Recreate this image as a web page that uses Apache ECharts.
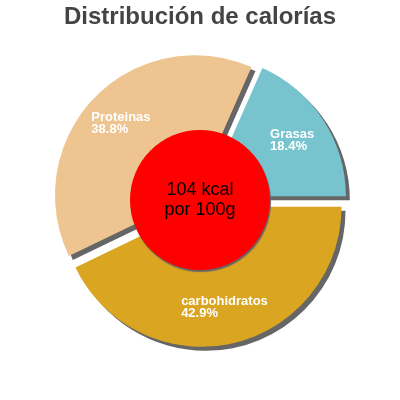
<!DOCTYPE html>
<html>
<head>
<meta charset="utf-8">
<script src="https://cdn.jsdelivr.net/npm/echarts@6/dist/echarts.min.js"></script>
<style>
  html, body { margin: 0; padding: 0; background: #fff; }
  #chart { width: 400px; height: 400px; }
</style>
</head>
<body>
<div id="chart"></div>
<script>
const title = 'Distribución de calorías'
const categories = ['carbohidratos', 'Proteinas', 'Grasas']
const values = [42.9, 38.8, 18.4]
const centerLines = ['104 kcal', 'por 100g']
const colors = ['#DAA520', '#EEC591', '#77C4CF']

const chart = echarts.init(document.getElementById('chart'), null, { renderer: 'canvas' })

const option = {
  animation: false,
  title: {
    text: title,
    left: 'center',
    top: 0,
    textStyle: {
      fontFamily: 'Liberation Sans',
      fontSize: 24,
      fontWeight: 'bold',
      color: '#444'
    }
  },
  series: [
    {
      type: 'pie',
      center: [200, 200],
      radius: [60, 140],
      startAngle: 0,
      clockwise: true,
      selectedMode: 'multiple',
      selectedOffset: 7,
      avoidLabelOverlap: false,
      emphasis: { disabled: true },
      itemStyle: {
        shadowBlur: 0,
        shadowOffsetX: 4,
        shadowOffsetY: 4,
        shadowColor: '#666'
      },
      label: {
        show: true,
        position: 'inside',
        formatter: '{t|{b}}\n{t|{c}%}',
        rich: {
          t: {
            align: 'left',
            color: '#fff',
            fontFamily: 'Liberation Sans',
            fontSize: 13,
            fontWeight: 'bold',
            lineHeight: 12
          }
        }
      },
      labelLine: { show: false },
      data: categories.map((name, i) => ({
        name: name,
        value: values[i],
        selected: true,
        itemStyle: { color: colors[i] }
      }))
    },
    {
      type: 'pie',
      center: [200, 200],
      radius: [0, 70],
      silent: true,
      emphasis: { disabled: true },
      itemStyle: {
        color: '#FF0000',
        shadowBlur: 1,
        shadowOffsetX: 1,
        shadowOffsetY: 2,
        shadowColor: '#666'
      },
      label: {
        show: true,
        position: 'center',
        formatter: centerLines.join('\n'),
        color: '#000',
        fontFamily: 'Liberation Sans',
        fontSize: 18,
        lineHeight: 20
      },
      labelLine: { show: false },
      data: [{ name: 'kcal', value: 1 }]
    }
  ]
}

option && chart.setOption(option)
</script>
</body>
</html>
